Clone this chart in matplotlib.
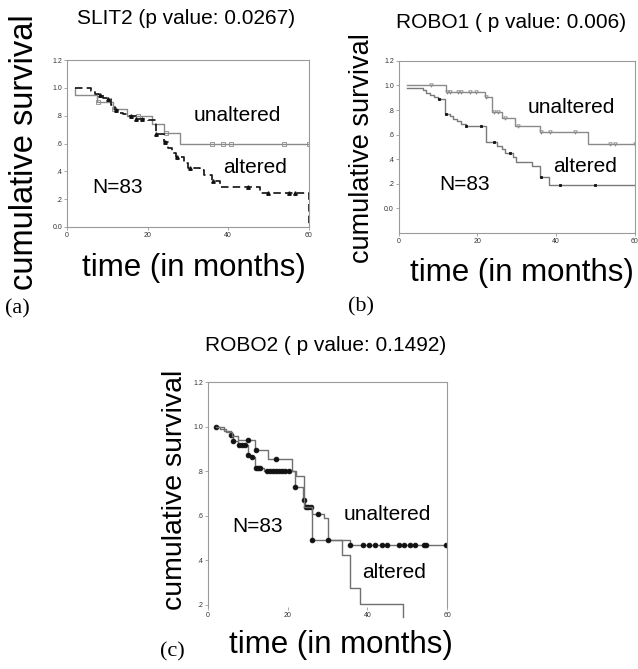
import matplotlib
import numpy as np

matplotlib.use("Agg")
import matplotlib.pyplot as plt

plt.rcParams["font.family"] = ["Liberation Sans", "DejaVu Sans"]

# ---- data ----
# SLIT2
slit2_unalt_t = [2, 2, 7.5, 11.3, 15, 21, 24, 28, 60]
slit2_unalt_s = [1.0, 0.95, 0.90, 0.85, 0.80, 0.74, 0.675, 0.60, 0.60]
slit2_unalt_cens = [7.8, 11.6, 17.6, 24.5, 36, 38.8, 40.7, 53.9, 60]
slit2_alt_t = [2, 6, 7, 8, 9, 10, 11, 12, 13, 14, 15, 17, 20, 22, 24, 25, 26,
               27, 29, 30, 33, 34, 36, 38, 48, 60]
slit2_alt_s = [1.0, 0.98, 0.96, 0.95, 0.93, 0.92, 0.88, 0.84, 0.82, 0.81, 0.80,
               0.78, 0.77, 0.67, 0.61, 0.57, 0.53, 0.50, 0.46, 0.42, 0.41, 0.37,
               0.33, 0.29, 0.24, 0.0]
slit2_alt_cens = [8.2, 10.2, 12.2, 16, 17.2, 18.5, 22.2, 24.2, 27.2, 30.4, 36.2,
                  45, 50, 55, 56.5]

# ROBO1
robo1_unalt_t = [2, 12, 22, 23.8, 26.2, 29.6, 36, 48.2, 60]
robo1_unalt_s = [1.0, 0.95, 0.905, 0.78, 0.735, 0.673, 0.618, 0.525, 0.525]
robo1_unalt_cens = [8.1, 12.3, 13, 15, 15.9, 18, 19.7, 22.1, 24.1, 25.2, 27.1,
                    30.3, 36.2, 38.5, 44.8, 53.7, 55, 60]
robo1_alt_t = [2, 6.2, 7, 7.9, 9, 10, 11.7, 13, 13.8, 14.7, 15.9, 17, 22.1,
               24.9, 26.2, 27.1, 29, 29.9, 33.8, 36, 38.3, 60]
robo1_alt_s = [0.98, 0.96, 0.94, 0.92, 0.905, 0.89, 0.77, 0.75, 0.73, 0.71,
               0.69, 0.67, 0.538, 0.51, 0.48, 0.45, 0.42, 0.38, 0.345, 0.258,
               0.19, 0.19]
robo1_alt_cens = [10.3, 12.1, 17.1, 20.9, 24.1, 28.4, 36.1, 41, 49.9]

# ROBO2
robo2_unalt_t = [2, 4, 5.7, 6.2, 7.5, 10, 10.8, 11.8, 14, 21.8, 23.9, 24.3,
                 26, 35.5, 60]
robo2_unalt_s = [1.0, 0.98, 0.962, 0.937, 0.917, 0.874, 0.864, 0.814, 0.802,
                 0.73, 0.671, 0.64, 0.49, 0.47, 0.47]
robo2_unalt_cens = [2, 5.8, 6.3, 7.8, 8.5, 9.3, 10.1, 11, 12, 12.5, 13, 14.7,
                    15.5, 16.3, 17, 17.8, 18.6, 19.4, 20.2, 21.9, 24, 24.5,
                    25.2, 25.8, 26.1, 35.6, 38.8, 40.4, 41.9, 43.6, 45.0, 47.8,
                    49.2, 50.7, 52.0, 54.1, 54.7, 59.8]
robo2_alt_t = [2, 3, 4.5, 6, 7.5, 11.8, 15, 21, 22, 24, 26, 29, 30, 33.6,
               35.7, 38, 48.8]
robo2_alt_s = [1.0, 0.99, 0.975, 0.96, 0.94, 0.895, 0.854, 0.80, 0.78, 0.64,
               0.61, 0.59, 0.49, 0.424, 0.276, 0.204, 0.146]
robo2_alt_cens = [10, 12, 17, 27.7, 30.1]

GRAY = "#8a8a8a"
SPINE = "#9a9a9a"


def surv_at(times, surv, cens):
    times = np.asarray(times)
    surv = np.asarray(surv)
    idx = np.searchsorted(times, cens, side="right") - 1
    return surv[idx]


def setup_axes(ax, ylim, yticks, ylabels, bottom_spine=True):
    ax.set_xlim(0, 60)
    ax.set_ylim(*ylim)
    ax.set_xticks([0, 20, 40, 60])
    ax.set_yticks(yticks)
    ax.set_yticklabels(ylabels)
    ax.tick_params(labelsize=5, length=2, width=0.6, colors=SPINE,
                   labelcolor="#333333", pad=1.5)
    for s in ax.spines.values():
        s.set_color(SPINE)
        s.set_linewidth(0.8)
    if not bottom_spine:
        ax.spines["bottom"].set_visible(False)


def draw_curve(ax, t, s, cens, color, marker, mfc, ms, ls="-", lw=1.0, clip=True):
    ax.step(t, s, where="post", color=color, lw=lw, ls=ls, clip_on=clip)
    ax.plot(cens, surv_at(t, s, cens), ls="none", marker=marker, ms=ms,
            mfc=mfc, mec=mfc if mfc != "none" else color, mew=0.6)


fig = plt.figure(figsize=(6.38, 6.69), dpi=100)
serif = ["Liberation Serif", "DejaVu Serif"]

# (a) SLIT2
ax_a = fig.add_axes([0.105, 0.661, 0.379, 0.249])
setup_axes(ax_a, (0, 1.2), [0, 0.2, 0.4, 0.6, 0.8, 1.0, 1.2],
           ["0.0", ".2", ".4", ".6", ".8", "1.0", "1.2"])
draw_curve(ax_a, slit2_unalt_t, slit2_unalt_s, slit2_unalt_cens, GRAY, "s", "none", 2.5)
ax_a.step(slit2_alt_t, slit2_alt_s, where="post", color="#111111", lw=1.2,
          dashes=(4.5, 2.5))
ax_a.plot(slit2_alt_cens, surv_at(slit2_alt_t, slit2_alt_s, slit2_alt_cens),
          ls="none", marker="^", ms=2.5, color="#111111")
ax_a.text(31.3, 0.805, "unaltered", fontsize=15, va="center")
ax_a.text(38.7, 0.424, "altered", fontsize=15, va="center")
ax_a.text(6.2, 0.28, "N=83", fontsize=15, va="center")
fig.text(186 / 638, 1 - 19 / 669, "SLIT2 (p value: 0.0267)", fontsize=15,
         ha="center", va="center")
fig.text(25 / 638, 1 - 152 / 669, "cumulative survival", fontsize=23.5,
         rotation=90, ha="center", va="center")
fig.text(194 / 638, 1 - 268 / 669, "time (in months)", fontsize=22.5,
         ha="center", va="center")
fig.text(17 / 638, 1 - 309 / 669, "(a)", fontsize=16, family=serif,
         ha="center", va="center")

# (b) ROBO1
ax_b = fig.add_axes([0.625, 0.652, 0.370, 0.257])
setup_axes(ax_b, (-0.2, 1.2), [0, 0.2, 0.4, 0.6, 0.8, 1.0, 1.2],
           ["0.0", ".2", ".4", ".6", ".8", "1.0", "1.2"])
draw_curve(ax_b, robo1_unalt_t, robo1_unalt_s, robo1_unalt_cens, GRAY, "v", "none", 2.5)
draw_curve(ax_b, robo1_alt_t, robo1_alt_s, robo1_alt_cens, "#7a7a7a", "s", "#111111", 1.8)
ax_b.text(32.8, 0.82, "unaltered", fontsize=15, va="center")
ax_b.text(39.2, 0.34, "altered", fontsize=15, va="center")
ax_b.text(10.2, 0.195, "N=83", fontsize=15, va="center")
fig.text(511 / 638, 1 - 22 / 669, "ROBO1 ( p value: 0.006)", fontsize=15,
         ha="center", va="center")
fig.text(362 / 638, 1 - 148 / 669, "cumulative survival", fontsize=19.5,
         rotation=90, ha="center", va="center")
fig.text(522 / 638, 1 - 273 / 669, "time (in months)", fontsize=22.5,
         ha="center", va="center")
fig.text(361 / 638, 1 - 307 / 669, "(b)", fontsize=16, family=serif,
         ha="center", va="center")

# (c) ROBO2
ax_c = fig.add_axes([0.326, 0.0927, 0.375, 0.336])
setup_axes(ax_c, (0.19, 1.2), [0.2, 0.4, 0.6, 0.8, 1.0, 1.2],
           [".2", ".4", ".6", ".8", "1.0", "1.2"], bottom_spine=False)
draw_curve(ax_c, robo2_unalt_t, robo2_unalt_s, robo2_unalt_cens, "#707070", "o", "#111111", 3.4)
draw_curve(ax_c, robo2_alt_t, robo2_alt_s, robo2_alt_cens, "#707070", "o", "#111111", 3.4,
           clip=False)
ax_c.text(33.9, 0.604, "unaltered", fontsize=15, va="center")
ax_c.text(38.7, 0.343, "altered", fontsize=15, va="center")
ax_c.text(6.0, 0.55, "N=83", fontsize=15, va="center")
fig.text(326 / 638, 1 - 345 / 669, "ROBO2 ( p value: 0.1492)", fontsize=15,
         ha="center", va="center")
fig.text(175 / 638, 1 - 490 / 669, "cumulative survival", fontsize=20.5,
         rotation=90, ha="center", va="center")
fig.text(341 / 638, 1 - 645 / 669, "time (in months)", fontsize=22.5,
         ha="center", va="center")
fig.text(172 / 638, 1 - 652 / 669, "(c)", fontsize=16, family=serif,
         ha="center", va="center")

fig.savefig("out.png", dpi=100)
plt.close(fig)
